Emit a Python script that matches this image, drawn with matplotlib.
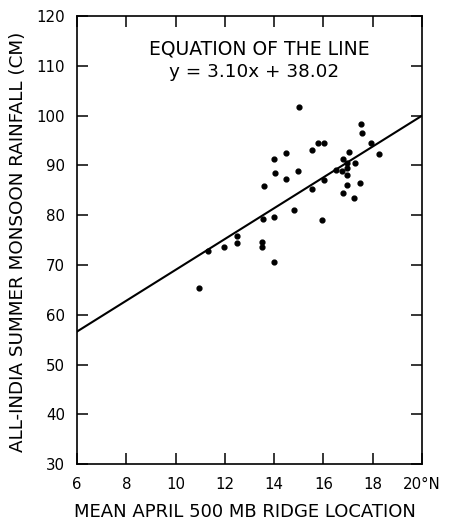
import matplotlib
matplotlib.use('Agg')
import matplotlib.pyplot as plt
import numpy as np

plt.rcParams['font.family'] = ['DejaVu Sans']

# ridge location (deg N) and rainfall (cm)
ridge = [15.0, 17.53, 17.55, 17.94, 18.27, 15.76, 16.01, 15.52, 14.46, 14.0,
         14.02, 14.98, 14.48, 13.57, 17.04, 16.78, 16.97, 17.28, 16.51, 16.75,
         16.97, 16.95, 16.01, 15.52, 16.97, 17.49, 16.78, 17.24, 14.79, 15.96,
         13.55, 13.98, 12.5, 12.5, 11.98, 11.31, 13.51, 13.51, 13.98, 10.96]
rain = [101.8, 98.4, 96.6, 94.6, 92.3, 94.5, 94.6, 93.2, 92.6, 91.4,
        88.5, 88.9, 87.3, 85.8, 92.7, 91.3, 90.5, 90.4, 89.0, 88.9,
        89.4, 88.1, 87.1, 85.3, 86.1, 86.5, 84.5, 83.4, 81.0, 79.0,
        79.2, 79.6, 75.9, 74.5, 73.7, 72.9, 74.7, 73.6, 70.6, 65.4]

slope = 3.10
intercept = 38.02

xticks = [6, 8, 10, 12, 14, 16, 18, 20]
xticklabels = ['6', '8', '10', '12', '14', '16', '18', '20°N']
yticks = [30, 40, 50, 60, 70, 80, 90, 100, 110, 120]

fig = plt.figure(figsize=(4.5, 5.22), dpi=100)
ax = fig.add_axes([0.171, 0.111, 0.767, 0.858])

ax.scatter(ridge, rain, s=12, color='black', zorder=3)
xl = np.array([6, 20])
ax.plot(xl, slope * xl + intercept, color='black', lw=1.5)

ax.set_xlim(6, 20)
ax.set_ylim(30, 120)
ax.set_xticks(xticks)
ax.set_xticklabels(xticklabels)
ax.set_yticks(yticks)
ax.tick_params(direction='in', length=8, width=1.1, top=True, right=True,
               labelsize=10.8)
ax.tick_params(axis='x', pad=9)
ax.tick_params(axis='y', pad=8.5)
for s in ax.spines.values():
    s.set_linewidth(1.2)

ax.text(13.39, 112.2, 'EQUATION OF THE LINE', ha='center', va='baseline', fontsize=13.5)
ax.text(13.2, 107.7, 'y = 3.10x + 38.02', ha='center', va='baseline', fontsize=13.2)

ax.set_xlabel('MEAN APRIL 500 MB RIDGE LOCATION', fontsize=13, va='center')
ax.xaxis.set_label_coords(0.487, -0.107)
ax.set_ylabel('ALL-INDIA SUMMER MONSOON RAINFALL (CM)', fontsize=13.2, va='center')
ax.yaxis.set_label_coords(-0.171, 0.496)

fig.savefig('out.png', dpi=100)
